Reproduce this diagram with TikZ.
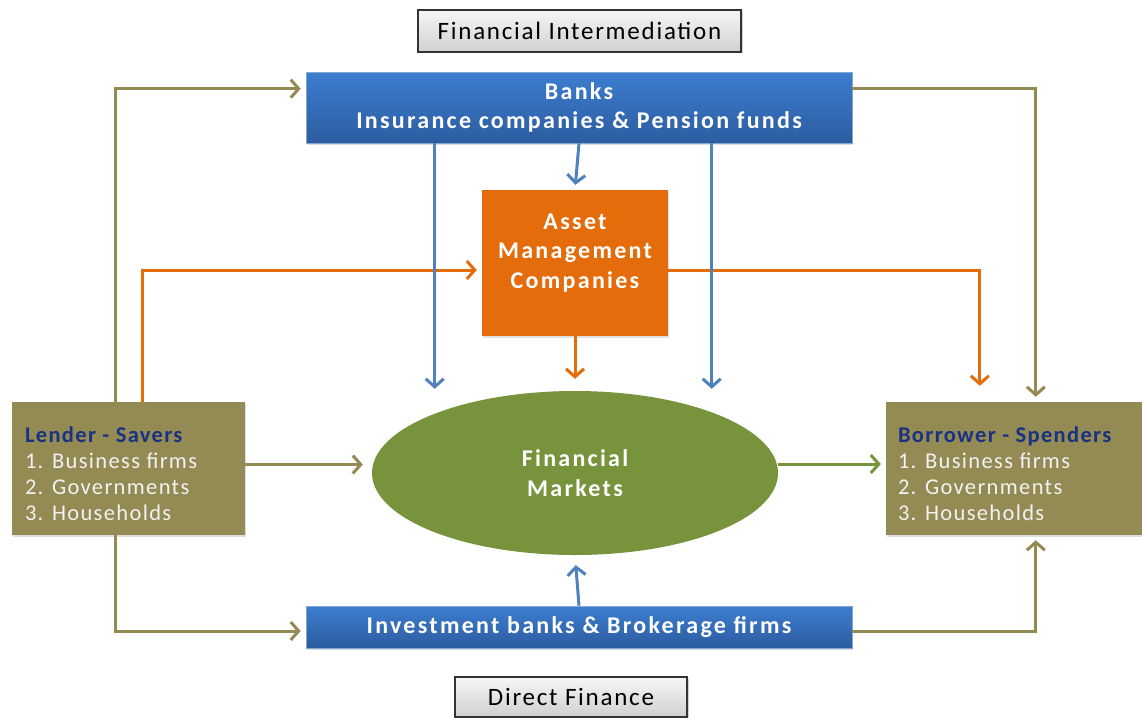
\documentclass[tikz,border=0pt]{standalone}
\usepackage{fontspec}
\setmainfont{Carlito}
\newfontfamily\lblfont{Carlito}[LetterSpace=7]
\newfontfamily\boxfont{Carlito}[LetterSpace=9.5]
\newfontfamily\listfont{Carlito}[LetterSpace=6]
\usetikzlibrary{arrows.meta,calc,shapes.geometric,shadows}
\definecolor{oliveA}{RGB}{148,138,84}
\definecolor{orangeA}{RGB}{228,108,10}
\definecolor{greenA}{RGB}{119,147,60}
\definecolor{blueTop}{RGB}{60,126,208}
\definecolor{blueBot}{RGB}{45,92,160}
\definecolor{blueLine}{RGB}{79,129,189}
\definecolor{navyA}{RGB}{25,50,130}
\definecolor{grayTop}{RGB}{246,246,244}
\definecolor{grayBot}{RGB}{208,208,206}
\tikzset{
  every node/.style={inner sep=0pt},
  boldtext/.style={text=white, align=center, font=\boxfont\bfseries\fontsize{24}{29.5}\selectfont},
  bluebox/.style={rectangle, draw=blueLine!70!white, line width=0.6pt, top color=blueTop, bottom color=blueBot, boldtext, drop shadow={shadow xshift=1pt, shadow yshift=-2pt, opacity=0.25}},
  labelbox/.style={rectangle, draw=black!80, line width=1.5pt, top color=grayTop, bottom color=grayBot, text=black, font=\lblfont\fontsize{25}{28}\selectfont, drop shadow={shadow xshift=1.5pt, shadow yshift=-1.5pt, opacity=0.35}},
  olivebox/.style={rectangle, fill=oliveA, drop shadow={shadow xshift=1pt, shadow yshift=-2pt, opacity=0.25}},
  olivetext/.style={text=white!95!black, align=left, font=\listfont\fontsize{22.5}{26}\selectfont},
  orangebox/.style={rectangle, fill=orangeA, drop shadow={shadow xshift=1pt, shadow yshift=-2pt, opacity=0.25}},
  greenell/.style={ellipse, fill=greenA, boldtext},
  conn/.style={line width=3pt, -{Straight Barb[length=8pt,width=18pt,line width=3pt]}, shorten >=5pt},
  oliveconn/.style={conn, draw=oliveA},
  orangeconn/.style={conn, draw=orangeA},
  blueconn/.style={conn, draw=blueLine},
  greenconn/.style={conn, draw=greenA},
}
\begin{document}
\begin{tikzpicture}[x=1pt, y=-1pt]
\useasboundingbox[fill=white] (0,0) rectangle (1142,717);

\node[labelbox, minimum width=323pt, minimum height=42pt] (fi) at (579.5,31) {Financial Intermediation};
\node[bluebox, minimum width=546pt, minimum height=71pt] (banks) at (579,107.5) {Banks\\Insurance companies \& Pension funds};
\node[orangebox, minimum width=186pt, minimum height=146pt] (asset) at (575,263) {};
\node[boldtext] (assettxt) at ($(asset.center)+(0,-10)$) {Asset\\Management\\Companies};
\node[greenell, minimum width=406pt, minimum height=164pt] (fm) at (575,473) {Financial\\Markets};
\node[olivebox, minimum width=233pt, minimum height=133pt] (lender) at (128.5,468.5) {};
\node[olivetext, anchor=west] (lendertxt) at ($(lender.west)+(13,5)$) {\textcolor{navyA}{\bfseries Lender - Savers}\\1. Business firms\\2. Governments\\3. Households};
\node[olivebox, minimum width=256pt, minimum height=133pt] (borrower) at (1014,468.5) {};
\node[olivetext, anchor=west] (borrowertxt) at ($(borrower.west)+(12,5)$) {\textcolor{navyA}{\bfseries Borrower - Spenders}\\1. Business firms\\2. Governments\\3. Households};
\node[bluebox, minimum width=546pt, minimum height=42pt] (inv) at (579,627) {Investment banks \& Brokerage firms};
\node[labelbox, minimum width=232pt, minimum height=40pt] (df) at (571,697) {Direct Finance};

% helper coordinates
\coordinate (lo1) at ($(lender.north west)+(104,0)$);
\coordinate (lo2) at ($(lender.south west)+(104,0)$);
\coordinate (lor) at ($(lender.north west)+(131,0)$);
\coordinate (bo1) at ($(borrower.north west)+(150,0)$);
\coordinate (bo2) at ($(borrower.south west)+(150,0)$);
\coordinate (bor) at ($(borrower.north west)+(94,0)$);
\coordinate (bk1) at ($(banks.north west)+(0,17)$);
\coordinate (bk2) at ($(banks.north east)+(0,17)$);
\coordinate (as1) at ($(asset.west)+(0,7)$);
\coordinate (as2) at ($(asset.east)+(0,7)$);
\coordinate (bl1) at ($(banks.south west)+(129,0)$);
\coordinate (bl2) at ($(banks.south west)+(406,0)$);
\coordinate (le) at ($(lender.east)+(0,-4)$);
\coordinate (fe) at ($(fm.east)+(0,-9)$);

% olive connectors
\draw[oliveconn] (lo1) |- (bk1);
\draw[oliveconn] (bk2) -| (bo1);
\draw[oliveconn] (lo2) |- ($(inv.west)+(0,4)$);
\draw[oliveconn] ($(inv.east)+(0,4)$) -| (bo2);
\draw[oliveconn, shorten >=9pt] (le) -- (le -| fm.west);
\draw[greenconn] (fe) -- (fe -| borrower.west);

% orange connectors
\draw[orangeconn] (lor) |- (as1);
\draw[orangeconn, shorten >=16pt] (as2) -| (bor);
\draw[orangeconn, shorten >=12pt] (asset.south) -- (fm.north);

% blue connectors
\draw[blueconn] (banks.south) -- (asset.north);
\draw[blueconn, shorten >=2pt] (bl1) -- (bl1 |- fm.north);
\draw[blueconn, shorten >=2pt] (bl2) -- (bl2 |- fm.north);
\draw[blueconn, shorten >=10pt] (inv.north) -- (fm.south);
\end{tikzpicture}
\end{document}
